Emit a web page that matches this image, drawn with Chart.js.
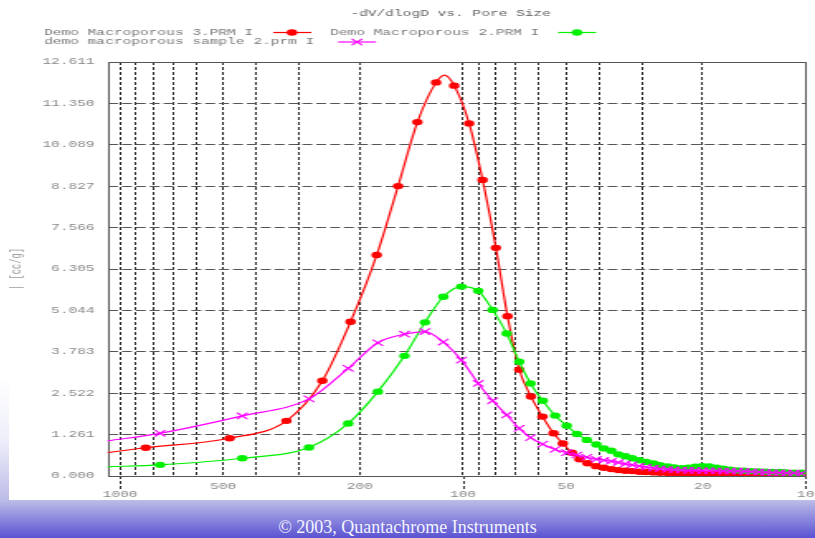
<!DOCTYPE html>
<html>
<head>
<meta charset="utf-8">
<script src="https://cdn.jsdelivr.net/npm/chart.js@4"></script>
<style>
  html, body { margin: 0; padding: 0; }
  body {
    width: 815px; height: 538px; overflow: hidden; position: relative;
    background: linear-gradient(to bottom, #ffffff 0%, #ffffff 70%, #eeeefa 81.8%, #bcbce8 93%, #5a52d2 100%);
  }
  #box { position: absolute; left: 9px; top: 0; width: 806px; height: 500px; background: #ffffff; overflow: hidden; }
  #c { position: absolute; left: 0; top: 0; width: 488px; height: 500px; transform: scaleX(1.651639); transform-origin: 0 0; }
  #footer { position: absolute; left: 0; top: 515px; width: 815px; height: 24px; line-height: 24px; text-align: center;
    font-family: "Liberation Serif", serif; font-size: 18px; color: #f4f4ff; }
</style>
</head>
<body>
<div id="box"><canvas id="c" width="488" height="500"></canvas></div>
<div id="footer">© 2003, Quantachrome Instruments</div>
<script>
// ---------- data ----------
const chartTitle = '-dV/dlogD vs. Pore Size';
const yAxisTitle = '| [cc/g]';
const seriesNames = ['Demo Macroporous 3.PRM I', 'Demo Macroporous 2.PRM I', 'demo macroporous sample 2.prm I'];

const xTickValues = [10, 20, 30, 40, 50, 60, 70, 80, 90, 100, 200, 300, 400, 500, 600, 700, 800, 900, 1000];
const xTickLabels = ['10', '20', '', '', '50', '', '', '', '', '100', '200', '', '', '500', '', '', '', '', '1000'];
const xDecades = [10, 100, 1000];
const yTickValues = [0, 1.261, 2.522, 3.783, 5.044, 6.305, 7.566, 8.827, 10.089, 11.350, 12.611];
const yTickLabels = ['0.000', '1.261', '2.522', '3.783', '5.044', '6.305', '7.566', '8.827', '10.089', '11.350', '12.611'];

// Demo Macroporous 3.PRM I (red)
const redPoreSize = [1089, 841, 479, 327, 257, 212.6, 178.4, 154.5, 135.7, 119.7,
  112.9, 106.0, 95.9, 87.6, 80.1, 74.1, 68.5, 63.3, 58.6, 54.4,
  51.1, 48.1, 45.7, 43.3, 40.9, 38.8, 36.9, 35.2, 33.6, 32.1,
  30.6, 29.2, 27.8, 26.6, 25.3, 24.2, 23.0, 22.0, 21.0, 20.0,
  19.1, 18.2, 17.4, 16.6, 15.8, 15.1, 14.4, 13.7, 13.1, 12.5,
  11.9, 11.4, 10.8, 10.3];
const redValues = [0.71, 0.86, 1.15, 1.68, 2.90, 4.70, 6.73, 8.83, 10.78, 11.99,
  12.21, 11.89, 10.74, 9.02, 6.95, 4.87, 3.24, 2.42, 1.81, 1.30,
  0.99, 0.71, 0.51, 0.39, 0.30, 0.25, 0.21, 0.18, 0.16, 0.15,
  0.13, 0.12, 0.11, 0.10, 0.09, 0.08, 0.08, 0.07, 0.07, 0.06,
  0.06, 0.06, 0.05, 0.05, 0.05, 0.04, 0.04, 0.04, 0.04, 0.04,
  0.03, 0.03, 0.03, 0.03];

// Demo Macroporous 2.PRM I (green) and demo macroporous sample 2.prm I (magenta)
const gmPoreSize = [1089, 764, 440, 281, 216, 177, 148, 129, 114, 101,
  90.2, 81.9, 74.5, 68.5, 63.5, 58.5, 53.8, 49.8, 46.5, 43.5,
  40.8, 38.8, 36.9, 35.2, 33.6, 32.1, 30.6, 29.2, 27.8, 26.6,
  25.3, 24.2, 23.0, 22.0, 21.0, 20.0, 19.1, 18.2, 17.4, 16.6,
  15.8, 15.1, 14.4, 13.7, 13.1, 12.5, 11.9, 11.4, 10.8, 10.3];
const greenValues = [0.28, 0.34, 0.54, 0.87, 1.60, 2.57, 3.66, 4.68, 5.46, 5.77,
  5.64, 5.06, 4.34, 3.48, 2.82, 2.29, 1.84, 1.53, 1.28, 1.10,
  0.96, 0.84, 0.77, 0.66, 0.60, 0.54, 0.48, 0.43, 0.38, 0.33,
  0.29, 0.26, 0.24, 0.25, 0.28, 0.30, 0.29, 0.25, 0.22, 0.19,
  0.17, 0.16, 0.15, 0.14, 0.13, 0.12, 0.12, 0.11, 0.10, 0.10];
const magentaValues = [1.07, 1.30, 1.83, 2.35, 3.28, 4.06, 4.32, 4.40, 4.08, 3.53,
  2.82, 2.29, 1.86, 1.45, 1.17, 0.97, 0.81, 0.71, 0.64, 0.57,
  0.51, 0.48, 0.45, 0.41, 0.37, 0.34, 0.30, 0.27, 0.24, 0.22,
  0.20, 0.19, 0.18, 0.17, 0.17, 0.16, 0.16, 0.16, 0.15, 0.15,
  0.15, 0.14, 0.13, 0.12, 0.11, 0.10, 0.10, 0.09, 0.09, 0.08];

// ---------- chart ----------
const toXY = (xs, ys) => xs.map((x, i) => ({ x: x, y: ys[i] }));
const FONT = '"Liberation Mono", "DejaVu Sans Mono", monospace';
const COLORS = ['#ff0000', '#00f000', '#ff00ff'];

const overlay = {
  id: 'overlay',
  beforeDatasetsDraw(chart) {
    const { ctx, chartArea: a } = chart;
    const xs = chart.scales.x;
    ctx.save();
    ctx.strokeStyle = '#333';
    ctx.lineWidth = 1;
    ctx.setLineDash([3, 2]);
    for (const v of xDecades) {
      const px = Math.round(xs.getPixelForValue(v)) + 0.5;
      ctx.beginPath(); ctx.moveTo(px, a.bottom); ctx.lineTo(px, a.bottom + 13); ctx.stroke();
    }
    ctx.setLineDash([]);
    ctx.strokeStyle = '#555';
    ctx.strokeRect(Math.round(a.left) + 0.5, Math.round(a.top) + 0.5,
      Math.round(a.right) - Math.round(a.left), Math.round(a.bottom) - Math.round(a.top));
    ctx.restore();
  },
  afterDraw(chart) {
    const ctx = chart.ctx;
    ctx.save();
    ctx.font = '8.8px ' + FONT;
    ctx.textBaseline = 'middle';
    ctx.fillStyle = '#606060';
    ctx.textAlign = 'center';
    ctx.fillText(chartTitle, 267.4, 14);
    ctx.textAlign = 'left';
    ctx.fillStyle = '#777';
    const items = [
      { ds: 0, tx: 21.2, ty: 32.5, lx: 160, mx: 171.3 },
      { ds: 1, tx: 194.4, ty: 32.5, lx: 332.4, mx: 343.9 },
      { ds: 2, tx: 21.2, ty: 42, lx: 199.2, mx: 210.7 }
    ];
    for (const it of items) {
      const ds = chart.data.datasets.find(d => d.key === it.ds);
      ctx.fillStyle = '#777';
      ctx.fillText(ds.label, it.tx, it.ty);
      ctx.strokeStyle = ds.borderColor;
      ctx.lineWidth = 1.2;
      ctx.beginPath(); ctx.moveTo(it.lx, it.ty); ctx.lineTo(it.lx + 23, it.ty); ctx.stroke();
      if (ds.pointStyle === 'crossRot') {
        const h = 3.2;
        ctx.beginPath();
        ctx.moveTo(it.mx - h, it.ty - h); ctx.lineTo(it.mx + h, it.ty + h);
        ctx.moveTo(it.mx - h, it.ty + h); ctx.lineTo(it.mx + h, it.ty - h);
        ctx.stroke();
      } else {
        ctx.fillStyle = ds.borderColor;
        ctx.beginPath(); ctx.arc(it.mx, it.ty, 3.2, 0, Math.PI * 2); ctx.fill();
      }
    }
    ctx.restore();
  }
};

new Chart(document.getElementById('c'), {
  type: 'line',
  data: {
    datasets: [
      {
        key: 2, label: seriesNames[2], data: toXY(gmPoreSize, magentaValues),
        borderColor: COLORS[2], backgroundColor: COLORS[2], borderWidth: 1.2,
        pointStyle: 'crossRot', pointBorderWidth: 1.1,
        pointRadius: c => (c.dataIndex === 0 ? 0 : 4.5),
        cubicInterpolationMode: 'monotone', fill: false
      },
      {
        key: 1, label: seriesNames[1], data: toXY(gmPoreSize, greenValues),
        borderColor: COLORS[1], backgroundColor: COLORS[1], borderWidth: 1.2,
        pointStyle: 'circle', pointBorderWidth: 0,
        pointRadius: c => (c.dataIndex === 0 ? 0 : 3.2),
        cubicInterpolationMode: 'monotone', fill: false
      },
      {
        key: 0, label: seriesNames[0], data: toXY(redPoreSize, redValues),
        borderColor: COLORS[0], backgroundColor: COLORS[0], borderWidth: 1.2,
        pointStyle: 'circle', pointBorderWidth: 0,
        pointRadius: c => ((c.dataIndex === 0 || c.dataIndex === 10) ? 0 : 3.2),
        cubicInterpolationMode: 'monotone', fill: false
      }
    ]
  },
  options: {
    responsive: false,
    animation: false,
    devicePixelRatio: 1,
    layout: { padding: { top: 62, right: 5.6, bottom: 0, left: 0 } },
    plugins: { legend: { display: false }, title: { display: false }, tooltip: { enabled: false } },
    scales: {
      x: {
        type: 'logarithmic', reverse: true, min: 10, max: 1089,
        afterBuildTicks: s => { s.ticks = xTickValues.map(v => ({ value: v })); },
        afterFit: s => { s.height = 24; },
        ticks: {
          autoSkip: false, maxRotation: 0, minRotation: 0, padding: 7, color: '#888',
          font: { family: FONT, size: 8.8, lineHeight: '8px' },
          callback: v => {
            const i = xTickValues.indexOf(v);
            const lab = i >= 0 ? xTickLabels[i] : '';
            return xDecades.includes(v) ? ['', lab] : lab;
          }
        },
        grid: { color: '#2a2a2a', lineWidth: 1, drawTicks: false },
        border: { display: false, dash: [3, 2] }
      },
      y: {
        type: 'linear', min: 0, max: 12.611,
        afterBuildTicks: s => { s.ticks = yTickValues.map(v => ({ value: v })); },
        afterFit: s => { s.width = 59.5; },
        ticks: {
          padding: 7.6, color: '#888',
          font: { family: FONT, size: 8.8 },
          callback: (v, i) => yTickLabels[i]
        },
        title: {
          display: true, text: yAxisTitle, color: '#999', padding: 0,
          font: { family: FONT, size: 8.8, lineHeight: 1 }
        },
        grid: { color: '#555', lineWidth: 1, drawTicks: false },
        border: { display: false, dash: [6, 2.4] }
      }
    }
  },
  plugins: [overlay]
});
</script>
</body>
</html>
